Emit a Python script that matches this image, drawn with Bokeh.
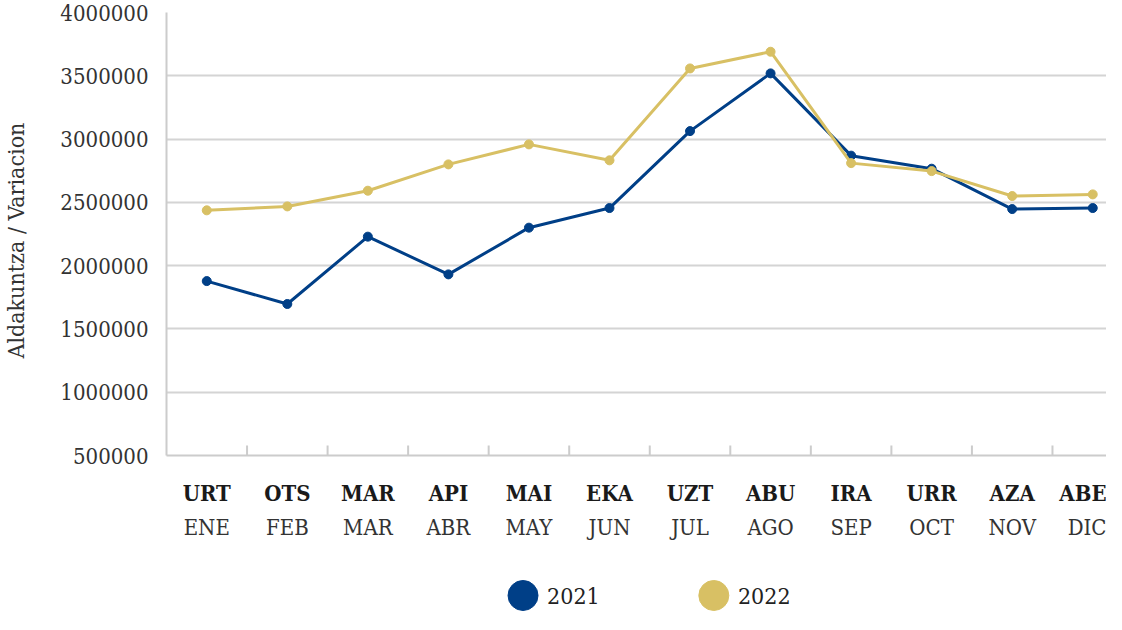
from bokeh.plotting import figure
from bokeh.models import Range1d, FixedTicker, BasicTickFormatter, LinearAxis
from bokeh.layouts import column
from bokeh.embed import file_html
from bokeh.resources import INLINE

# ---- data ----
months_eu = ["URT", "OTS", "MAR", "API", "MAI", "EKA", "UZT", "ABU", "IRA", "URR", "AZA", "ABE"]
months_es = ["ENE", "FEB", "MAR", "ABR", "MAY", "JUN", "JUL", "AGO", "SEP", "OCT", "NOV", "DIC"]
series_names = ["2021", "2022"]
values_2021 = [1878000, 1697000, 2229000, 1931000, 2300000, 2455000,
               3063000, 3519000, 2869000, 2766000, 2447000, 2455000]
values_2022 = [2437000, 2468000, 2592000, 2800000, 2958000, 2832000,
               3558000, 3690000, 2810000, 2747000, 2550000, 2563000]
y_ticks = [500000, 1000000, 1500000, 2000000, 2500000, 3000000, 3500000, 4000000]
y_label = "Aldakuntza / Variacion"
colors = ["#003f87", "#d8c064"]

# ---- layout constants ----
FONT = "DejaVu Serif Condensed"
W = 1106
LEFT = 161
RIGHT_GAP = 9
TOP = 12
STEP = 80.2
BOTTOM = 88
FRAME_H = 443
H_MAIN = TOP + FRAME_H + BOTTOM
H_LEG = 69
frame_w = W - LEFT - RIGHT_GAP
n = len(months_eu)
x = list(range(n))
y0, y1 = y_ticks[0], y_ticks[-1]

p = figure(width=W, height=H_MAIN,
           x_range=Range1d(-0.5, -0.5 + frame_w / STEP),
           y_range=Range1d(y0, y1),
           output_backend="svg", toolbar_location=None,
           min_border_left=LEFT, min_border_right=0, min_border_top=TOP, min_border_bottom=BOTTOM)
p.outline_line_color = None
p.xgrid.visible = False
p.ygrid.ticker = FixedTicker(ticks=y_ticks)
p.ygrid.grid_line_color = "#d4d4d4"
p.ygrid.grid_line_width = 2

# y axis
ya = p.yaxis[0]
ya.ticker = FixedTicker(ticks=y_ticks)
ya.formatter = BasicTickFormatter(use_scientific=False)
ya.axis_line_color = "#cccccc"
ya.axis_line_width = 2
ya.major_tick_line_color = None
ya.minor_tick_line_color = None
ya.major_label_standoff = 12
ya.major_label_text_font = FONT
ya.major_label_text_font_size = "22px"
ya.major_label_text_color = "#333333"
ya.major_label_text_baseline = "hanging"
ya.axis_label = y_label + "\u00a0\u00a0"
ya.axis_label_text_font = FONT
ya.axis_label_text_font_size = "23px"
ya.axis_label_text_font_style = "normal"
ya.axis_label_text_color = "#333333"
ya.axis_label_standoff = 28

# x axis: line + basque labels (bold)
xa = p.xaxis[0]
xa.ticker = FixedTicker(ticks=x)
xa.major_label_overrides = {i: months_eu[i] for i in x}
xa.axis_line_color = "#cccccc"
xa.axis_line_width = 2
xa.major_tick_line_color = None
xa.minor_tick_line_color = None
xa.major_label_standoff = 18
xa.major_label_text_font = FONT
xa.major_label_text_font_size = "22px"
xa.major_label_text_font_style = "bold"
xa.major_label_text_color = "#1a1a1a"

# spanish labels
ax_es = LinearAxis(ticker=FixedTicker(ticks=x),
                   major_label_overrides={i: months_es[i] for i in x},
                   axis_line_color=None, major_tick_line_color=None, minor_tick_line_color=None,
                   major_label_standoff=0, major_label_text_font=FONT,
                   major_label_text_font_size="22px",
                   major_label_text_color="#333333")
p.add_layout(ax_es, "below")

# boundary ticks between months (pointing up from the axis, 10px)
bounds = [i + 0.5 for i in range(n - 1)]
tick_len = (y1 - y0) * 10 / FRAME_H
p.segment(x0=bounds, y0=[y0] * len(bounds), x1=bounds, y1=[y0 + tick_len] * len(bounds),
          line_color="#cccccc", line_width=2)

for vals, c in zip([values_2021, values_2022], colors):
    p.line(x, vals, line_color=c, line_width=3)
    p.scatter(x, vals, size=9, fill_color=c, line_color=c)

# ---- legend figure (x in page pixels) ----
leg = figure(width=W, height=H_LEG, x_range=Range1d(8 + LEFT, 8 + W - RIGHT_GAP), y_range=Range1d(0, H_LEG),
             output_backend="svg", toolbar_location=None,
             min_border_left=LEFT, min_border_right=0, min_border_top=0, min_border_bottom=0)
leg.axis.visible = False
leg.grid.visible = False
leg.outline_line_color = None
leg_x = [524, 714]
leg_y = [17, 17]
leg.scatter(leg_x, leg_y, size=30, fill_color=colors, line_color=colors)
leg.text([xx + 24 for xx in leg_x], leg_y, text=series_names, text_font_size="23px",
         text_baseline="middle", text_color="#222222", text_font={"value": FONT})

layout = column(p, leg, spacing=0)
open("out.html", "w").write(file_html(layout, INLINE))
